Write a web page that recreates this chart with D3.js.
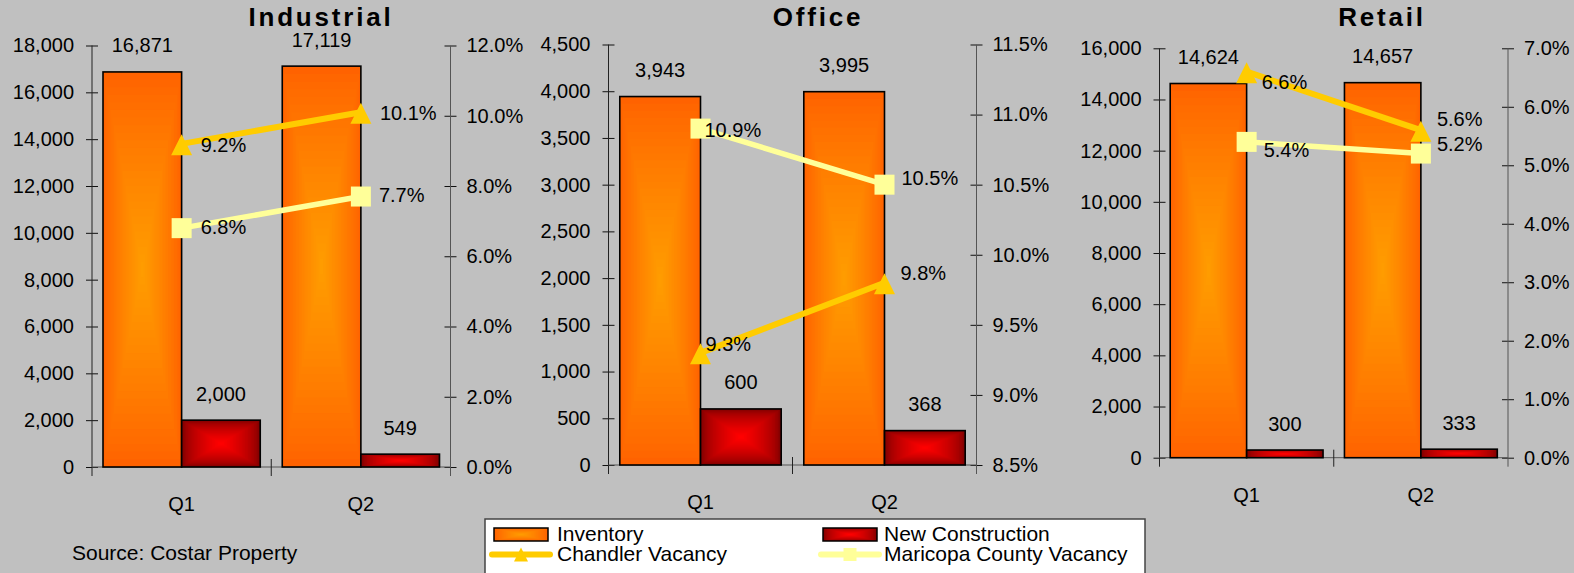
<!DOCTYPE html>
<html>
<head>
<meta charset="utf-8">
<script src="https://cdn.jsdelivr.net/npm/d3@7"></script>
<style>
  html, body { margin: 0; padding: 0; background: #c0c0c0; }
  svg { display: block; font-family: "Liberation Sans", Arial, sans-serif; }
</style>
</head>
<body>
<svg id="chart" width="1574" height="573"></svg>
<script>
// data
const panelNames = ["Industrial", "Office", "Retail"];
const quarters = ["Q1", "Q2"];
const inventory = [[16871, 17119], [3943, 3995], [14624, 14657]];
const newConstruction = [[2000, 549], [600, 368], [300, 333]];
const chandlerVacancy = [[9.2, 10.1], [9.3, 9.8], [6.6, 5.6]];
const maricopaVacancy = [[6.8, 7.7], [10.9, 10.5], [5.4, 5.2]];
const leftTicks = [
  [0, 2000, 4000, 6000, 8000, 10000, 12000, 14000, 16000, 18000],
  [0, 500, 1000, 1500, 2000, 2500, 3000, 3500, 4000, 4500],
  [0, 2000, 4000, 6000, 8000, 10000, 12000, 14000, 16000],
];
const rightTicks = [
  [0, 2, 4, 6, 8, 10, 12],
  [8.5, 9, 9.5, 10, 10.5, 11, 11.5],
  [0, 1, 2, 3, 4, 5, 6, 7],
];
const legendItems = ["Inventory", "New Construction", "Chandler Vacancy", "Maricopa County Vacancy"];
const sourceText = "Source: Costar Property";

// layout (pixels)
const layout = [
  { x0: 92, x1: 450.5, yTop: 45.5, yBot: 467, titleX: 321,
    chandlerNudge: [[19, 1], [19, 1]], maricopaNudge: [[19, -1], [18, -2]] },
  { x0: 608.5, x1: 976.5, yTop: 44.5, yBot: 465, titleX: 818,
    chandlerNudge: [[5, -9], [16, -10]], maricopaNudge: [[4, 1], [17, -7]] },
  { x0: 1159.5, x1: 1508, yTop: 48.3, yBot: 457.7, titleX: 1382,
    chandlerNudge: [[15, 10], [16, -11]], maricopaNudge: [[17, 8], [16, -10]] },
];

const colors = {
  bg: "#c0c0c0",
  invEdge: "#ff6200", invCenter: "#ff9c00",
  ncEdge: "#7a0000", ncCenter: "#ff0000",
  chandler: "#ffcc00", maricopa: "#ffff99",
};

const svg = d3.select("#chart");
svg.append("rect").attr("width", 1574).attr("height", 573).attr("fill", colors.bg);

// rectangular "from centre" gradient, drawn as nested rects
function gradRect(g, x, y, w, h, edge, center, sw, gamma) {
  const steps = 26;
  const interp = d3.interpolateRgb(edge, center);
  for (let i = 0; i < steps; i++) {
    const t = i / steps;
    g.append("rect")
      .attr("x", x + (t * w) / 2)
      .attr("y", y + (t * h) / 2)
      .attr("width", Math.max(w * (1 - t), 0))
      .attr("height", Math.max(h * (1 - t), 0))
      .attr("fill", interp(Math.min(1, Math.pow(t * 1.05, gamma || 1))));
  }
  g.append("rect")
    .attr("x", x).attr("y", y).attr("width", w).attr("height", h)
    .attr("fill", "none").attr("stroke", "#000").attr("stroke-width", sw || 1.6);
}

function triangle(cx, cy, s) {
  return `M${cx},${cy - s / 2}L${cx + s / 2},${cy + s / 2}L${cx - s / 2},${cy + s / 2}Z`;
}

const fmtCount = d3.format(",");
const fmtPct = (d) => d3.format(".1f")(d) + "%";

panelNames.forEach((name, p) => {
  const L = layout[p];
  const g = svg.append("g").attr("class", "panel");
  const lt = leftTicks[p], rt = rightTicks[p];

  const x = d3.scaleBand().domain(quarters).range([L.x0, L.x1]).padding(0);
  const xs = d3.scaleBand().domain(["inv", "nc"]).range([0, x.bandwidth()])
    .paddingInner(0).paddingOuter(0.14);
  const yL = d3.scaleLinear().domain([0, lt[lt.length - 1]]).range([L.yBot, L.yTop]);
  const yR = d3.scaleLinear().domain([rt[0], rt[rt.length - 1]]).range([L.yBot, L.yTop]);

  // title
  g.append("text")
    .attr("x", L.titleX).attr("y", 26)
    .attr("text-anchor", "middle")
    .attr("font-size", 26).attr("font-weight", "bold")
    .attr("letter-spacing", "2.8px")
    .text(name);

  // axes
  const axisL = g.append("g").attr("transform", `translate(${L.x0},0)`)
    .call(d3.axisLeft(yL).tickValues(lt).tickFormat(fmtCount).tickSize(6).tickPadding(12));
  const axisR = g.append("g").attr("transform", `translate(${L.x1},0)`)
    .call(d3.axisRight(yR).tickValues(rt).tickFormat(fmtPct).tickSize(6).tickPadding(10));
  [axisL, axisR].forEach((a) => {
    a.select(".domain").remove();
    a.selectAll(".tick line").attr("stroke", "#111");
    a.selectAll(".tick text").attr("font-size", 20).attr("fill", "#000")
      .attr("font-family", "Liberation Sans, Arial, sans-serif");
  });
  // cross ticks (extend to the other side as well)
  axisL.selectAll(".tick").append("line").attr("x2", 6).attr("stroke", "#111");
  axisR.selectAll(".tick").append("line").attr("x2", -6).attr("stroke", "#111");
  g.append("line").attr("x1", L.x0).attr("x2", L.x0)
    .attr("y1", L.yTop).attr("y2", L.yBot + 9).attr("stroke", "#222");
  g.append("line").attr("x1", L.x1).attr("x2", L.x1)
    .attr("y1", L.yTop).attr("y2", L.yBot + 9).attr("stroke", "#555");

  // category axis
  g.append("line").attr("x1", L.x0).attr("x2", L.x1)
    .attr("y1", L.yBot).attr("y2", L.yBot).attr("stroke", "#555");
  g.append("line")
    .attr("x1", x("Q2")).attr("x2", x("Q2"))
    .attr("y1", L.yBot - 8).attr("y2", L.yBot + 9).attr("stroke", "#222");
  g.selectAll(".qlab").data(quarters).enter().append("text")
    .attr("x", (d) => x(d) + x.bandwidth() / 2)
    .attr("y", L.yBot + 44)
    .attr("text-anchor", "middle").attr("font-size", 20)
    .text((d) => d);

  // bars
  quarters.forEach((q, i) => {
    const series = [
      { key: "inv", v: inventory[p][i], edge: colors.invEdge, center: colors.invCenter, gamma: 0.85 },
      { key: "nc", v: newConstruction[p][i], edge: colors.ncEdge, center: colors.ncCenter, gamma: 0.6 },
    ];
    series.forEach((s) => {
      const bx = x(q) + xs(s.key);
      const by = yL(s.v);
      gradRect(g, bx, by, xs.bandwidth(), L.yBot - by, s.edge, s.center, 1.6, s.gamma);
      g.append("text")
        .attr("x", bx + xs.bandwidth() / 2)
        .attr("y", by - 19.5)
        .attr("text-anchor", "middle").attr("font-size", 20)
        .text(fmtCount(s.v));
    });
  });

  // vacancy lines
  const cx = (q) => x(q) + x.bandwidth() / 2;
  const line = d3.line().x((d, i) => cx(quarters[i])).y((d) => yR(d));
  const lineSeries = [
    { vals: chandlerVacancy[p], color: colors.chandler, w: 6, marker: "tri", nudge: L.chandlerNudge },
    { vals: maricopaVacancy[p], color: colors.maricopa, w: 5.5, marker: "sq", nudge: L.maricopaNudge },
  ];
  lineSeries.forEach((s) => {
    g.append("path").attr("d", line(s.vals)).attr("fill", "none")
      .attr("stroke", s.color).attr("stroke-width", s.w);
  });
  lineSeries.forEach((s) => {
    s.vals.forEach((v, i) => {
      const px = cx(quarters[i]), py = yR(v);
      if (s.marker === "tri") {
        g.append("path").attr("d", triangle(px, py + 1, 21)).attr("fill", s.color);
      } else {
        g.append("rect").attr("x", px - 10).attr("y", py - 10)
          .attr("width", 20).attr("height", 20).attr("fill", s.color);
      }
    });
  });
  lineSeries.forEach((s) => {
    s.vals.forEach((v, i) => {
      const px = cx(quarters[i]), py = yR(v);
      g.append("text")
        .attr("x", px + s.nudge[i][0])
        .attr("y", py + s.nudge[i][1] + 7)
        .attr("font-size", 20)
        .text(fmtPct(v));
    });
  });
});

// source
svg.append("text").attr("x", 72).attr("y", 560).attr("font-size", 21).text(sourceText);

// legend
const lg = svg.append("g").attr("class", "legend");
lg.append("rect").attr("x", 485).attr("y", 519).attr("width", 660).attr("height", 70)
  .attr("fill", "#fff").attr("stroke", "#444").attr("stroke-width", 1.5);
const legendPos = [
  { sx: 494, tx: 557, y: 540.5, kind: "inv" },
  { sx: 823, tx: 884, y: 540.5, kind: "nc" },
  { sx: 494, tx: 557, y: 561, kind: "chandler" },
  { sx: 823, tx: 884, y: 561, kind: "maricopa" },
];
legendItems.forEach((label, i) => {
  const P = legendPos[i];
  if (P.kind === "inv") {
    gradRect(lg, P.sx, P.y - 12.5, 54, 13, colors.invEdge, colors.invCenter, 1.5, 0.85);
  } else if (P.kind === "nc") {
    gradRect(lg, P.sx, P.y - 12.5, 54, 13, colors.ncEdge, colors.ncCenter, 1.5, 0.6);
  } else {
    const c = colors[P.kind];
    const ly = P.y - 6.5;
    lg.append("line").attr("x1", P.sx - 2).attr("x2", P.sx + 56)
      .attr("y1", ly).attr("y2", ly).attr("stroke", c).attr("stroke-width", 6)
      .attr("stroke-linecap", "round");
    if (P.kind === "chandler") {
      lg.append("path").attr("d", triangle(P.sx + 27, ly, 14)).attr("fill", c);
    } else {
      lg.append("rect").attr("x", P.sx + 20.5).attr("y", ly - 6.5)
        .attr("width", 13).attr("height", 13).attr("fill", c);
    }
  }
  lg.append("text").attr("x", P.tx).attr("y", P.y).attr("font-size", 21).text(label);
});
</script>
</body>
</html>
